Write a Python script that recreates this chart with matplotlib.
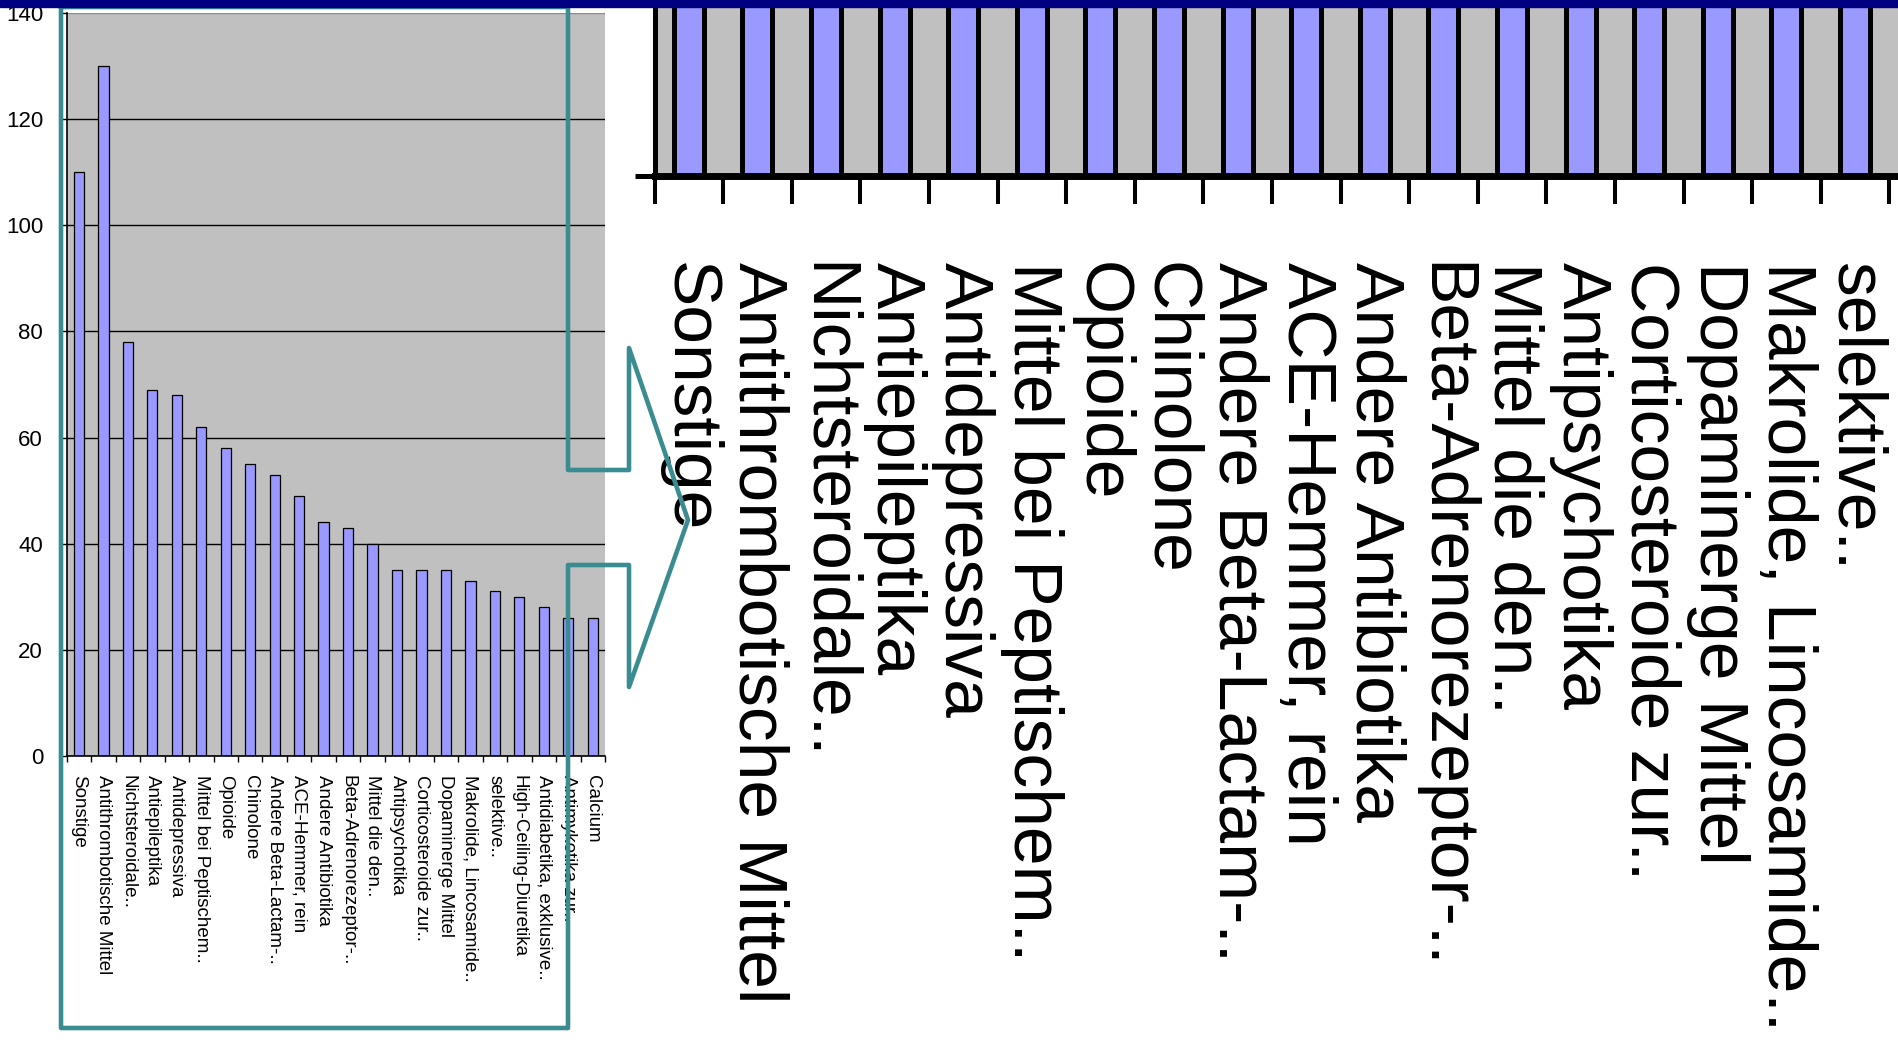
import matplotlib
matplotlib.use("Agg")
import matplotlib.pyplot as plt
from matplotlib.lines import Line2D
from matplotlib.patches import Rectangle

plt.rcParams['font.family'] = ['Liberation Sans', 'DejaVu Sans']

# Verordnungen je Wirkstoffgruppe
categories = [
    "Sonstige", "Antithrombotische Mittel", "Nichtsteroidale..",
    "Antiepileptika", "Antidepressiva", "Mittel bei Peptischem..",
    "Opioide", "Chinolone", "Andere Beta-Lactam-..", "ACE-Hemmer, rein",
    "Andere Antibiotika", "Beta-Adrenorezeptor-..", "Mittel die den..",
    "Antipsychotika", "Corticosteroide zur..", "Dopaminerge Mittel",
    "Makrolide, Lincosamide..", "selektive..", "High-Ceiling-Diuretika",
    "Antidiabetika, exklusive..", "Antimykotika zur..", "Calcium",
]
counts = [110, 130, 78, 69, 68, 62, 58, 55, 53, 49, 44, 43, 40,
          35, 35, 35, 33, 31, 30, 28, 26, 26]
y_ticks = [0, 20, 40, 60, 80, 100, 120, 140]

W, H = 1898, 1061
GRAY = '#C0C0C0'
BLUE = '#9999FF'
TEAL = '#3B8C90'


def box(x0, y0, x1, y1):
    # pixel box (top-left origin) -> figure fraction
    return [x0 / W, 1 - y1 / H, (x1 - x0) / W, (y1 - y0) / H]


fig = plt.figure(figsize=(W / 100, H / 100), dpi=100)
x = list(range(len(categories)))
edges = [i - 0.5 for i in range(len(categories) + 1)]

# --- full chart ---
ax = fig.add_axes(box(66.7, 13, 605, 756))
ax.set_facecolor(GRAY)
ax.bar(x, counts, width=0.42, color=BLUE, edgecolor='black', linewidth=0.9, zorder=2)
ax.set_yticks(y_ticks)
ax.yaxis.grid(True, color='black', linewidth=1.0)
ax.get_ygridlines()[-1].set_color('#8c8c8c')
ax.set_axisbelow(True)
ax.set_xticks(x)
ax.set_xticklabels(categories, rotation=-90, fontsize=13.5, ha='center', va='top')
ax.set_xticks(edges, minor=True)
ax.tick_params(axis='x', which='major', length=0, pad=14)
ax.tick_params(axis='x', which='minor', length=4.5, width=1.0, direction='out')
ax.tick_params(axis='y', length=6, width=1.0, pad=11, labelsize=16)
ax.set_xlim(-0.5, len(categories) - 0.5)
ax.set_ylim(0, 140)
ax.spines[['top', 'right']].set_visible(False)
ax.spines[['left', 'bottom']].set_linewidth(1.2)

# --- enlarged detail of the left part ---
az = fig.add_axes(box(654.5, 7, 1898, 176))
az.set_facecolor(GRAY)
az.bar(x, counts, width=0.44, color=BLUE, edgecolor='black', linewidth=3.6, zorder=2)
az.set_yticks([0])
az.set_yticklabels([])
az.tick_params(axis='y', length=14.4, width=3.6)
az.set_xticks([])
az.set_xticks(edges, minor=True)
az.tick_params(axis='x', which='minor', length=20, width=2.9, direction='out')
az.set_xlim(-0.5, -0.5 + (W - 654.5) / 68.6)
az.set_ylim(0, 8)
az.spines[['top', 'right']].set_visible(False)
az.spines['left'].set_linewidth(3.6)
az.spines['bottom'].set_linewidth(5)
for i, name in enumerate(categories):
    az.annotate(name, xy=(i, 0), xycoords=('data', 'axes fraction'),
                xytext=(0, -62), textcoords='offset points',
                rotation=-90, ha='center', va='top', fontsize=50,
                annotation_clip=False)

# frame around the detail region with the arrow pointing right
fx = [61, 568, 568, 629, 629, 688, 629, 629, 568, 568, 61, 61]
fy = [7, 7, 470, 470, 348, 520, 687, 565, 565, 1028, 1028, 7]
fig.add_artist(Line2D([v / W for v in fx], [1 - v / H for v in fy],
                      transform=fig.transFigure, color=TEAL, linewidth=3.3,
                      solid_joinstyle='round', zorder=20))

# title bar strip
fig.add_artist(Rectangle((0, 1 - 7 / H), 1, 7 / H, transform=fig.transFigure,
                         color='#000080', zorder=30))

fig.savefig('out.png', dpi=100)
